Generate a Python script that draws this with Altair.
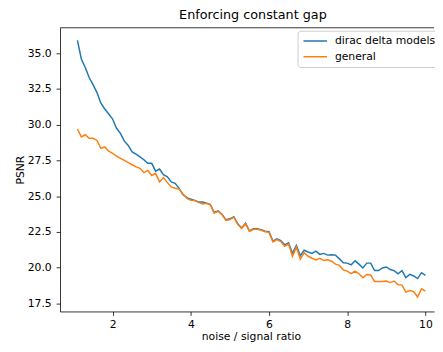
import altair as alt
import pandas as pd

x_vals = [round(1.1 + 0.1 * i, 1) for i in range(90)]

dirac = [35.9, 34.6, 34.0, 33.3, 32.8, 32.25, 31.5, 31.1, 30.75, 30.4,
         29.75, 29.4, 28.85, 28.55, 28.1, 27.95, 27.75, 27.55, 27.3, 27.3,
         26.75, 26.9, 26.5, 26.35, 26.0, 25.9, 25.55, 25.1, 24.9, 24.8,
         24.7, 24.6, 24.6, 24.52, 24.42, 23.86, 23.97, 23.73, 23.35, 23.42,
         23.56, 23.07, 22.78, 23.12, 22.57, 22.73, 22.72, 22.66, 22.56, 22.52,
         21.86, 22.02, 21.9, 21.6, 21.74, 21.0, 21.56, 20.84, 21.22, 21.1,
         21.0, 21.16, 20.93, 21.0, 20.88, 20.9, 20.88, 20.62, 20.35, 20.32,
         20.2, 20.48, 20.25, 19.98, 20.32, 20.32, 19.8, 19.8, 19.98, 20.05,
         19.87, 19.8, 19.58, 19.8, 19.3, 19.53, 19.42, 19.24, 19.65, 19.47]

general = [29.7, 29.15, 29.3, 29.05, 29.05, 28.9, 28.35, 28.45, 28.15, 28.0,
           27.8, 27.65, 27.5, 27.35, 27.2, 27.05, 26.95, 26.65, 26.8, 26.45,
           26.6, 26.0, 26.3, 25.95, 25.65, 25.56, 25.5, 25.15, 24.85, 24.72,
           24.7, 24.57, 24.45, 24.5, 24.38, 23.82, 23.94, 23.7, 23.3, 23.37,
           23.53, 23.03, 22.74, 23.08, 22.53, 22.69, 22.69, 22.62, 22.51, 22.47,
           21.8, 21.97, 21.83, 21.5, 21.65, 20.8, 21.45, 20.6, 21.05, 20.8,
           20.66, 20.55, 20.66, 20.5, 20.55, 20.45, 20.25, 20.16, 19.85, 19.76,
           19.58, 19.76, 19.58, 19.3, 19.53, 19.49, 19.03, 19.03, 19.03, 19.07,
           18.96, 19.07, 18.8, 18.8, 18.29, 18.4, 18.33, 17.95, 18.52, 18.36]

series_names = ["dirac delta models", "general"]
series_colors = ["#1f77b4", "#ff7f0e"]
x_ticks = [2, 4, 6, 8, 10]
y_ticks = [17.5, 20.0, 22.5, 25.0, 27.5, 30.0, 32.5, 35.0]

df = pd.DataFrame({
    "x": x_vals * 2,
    "psnr": dirac + general,
    "series": [series_names[0]] * len(x_vals) + [series_names[1]] * len(x_vals),
})

W, H = 381, 289

lines = alt.Chart(df).mark_line(strokeWidth=1.5).encode(
    x=alt.X("x:Q",
            scale=alt.Scale(domain=[0.655, 10.22], nice=False, zero=False),
            axis=alt.Axis(values=x_ticks, format="d", title="noise / signal ratio",
                          labelPadding=3, titlePadding=2, titleX=194.5)),
    y=alt.Y("psnr:Q",
            scale=alt.Scale(domain=[16.94, 36.78], nice=False, zero=False),
            axis=alt.Axis(values=y_ticks, format=".1f", title="PSNR",
                          labelPadding=5, titlePadding=2)),
    color=alt.Color("series:N",
                    scale=alt.Scale(domain=series_names, range=series_colors),
                    legend=alt.Legend(title=None, orient="none", legendX=242, legendY=3,
                                      symbolType="stroke", symbolSize=576,
                                      symbolStrokeWidth=1.5, labelFontSize=11,
                                      labelFont="DejaVu Sans", labelColor="black",
                                      labelOffset=7, padding=5, rowPadding=4,
                                      clipHeight=11,
                                      strokeColor="#cccccc", fillColor="white",
                                      cornerRadius=3)),
    order=alt.Order("x:Q"),
)

top_spine = alt.Chart(pd.DataFrame({"a": [0]})).mark_rule(
    color="black", strokeWidth=0.8
).encode(x=alt.value(0), x2=alt.value(W), y=alt.value(0))

chart = alt.layer(lines, top_spine).properties(
    width=W, height=H,
    title=alt.TitleParams("Enforcing constant gap", fontSize=13, font="DejaVu Sans",
                          fontWeight="normal", color="black", anchor="middle",
                          dx=6, offset=6),
    padding={"left": 53, "top": 17, "right": 1, "bottom": 30},
    autosize=alt.AutoSizeParams(type="none"),
).configure(font="DejaVu Sans").configure_view(strokeWidth=0).configure_axis(
    grid=False, domainColor="black", domainWidth=0.8, tickColor="black",
    tickWidth=0.8, tickSize=4, labelFontSize=11, labelFont="DejaVu Sans",
    labelColor="black", titleFontSize=11, titleFont="DejaVu Sans",
    titleFontWeight="normal", titleColor="black",
)

chart.save("out.html", embed_options={"renderer": "svg", "actions": False})
